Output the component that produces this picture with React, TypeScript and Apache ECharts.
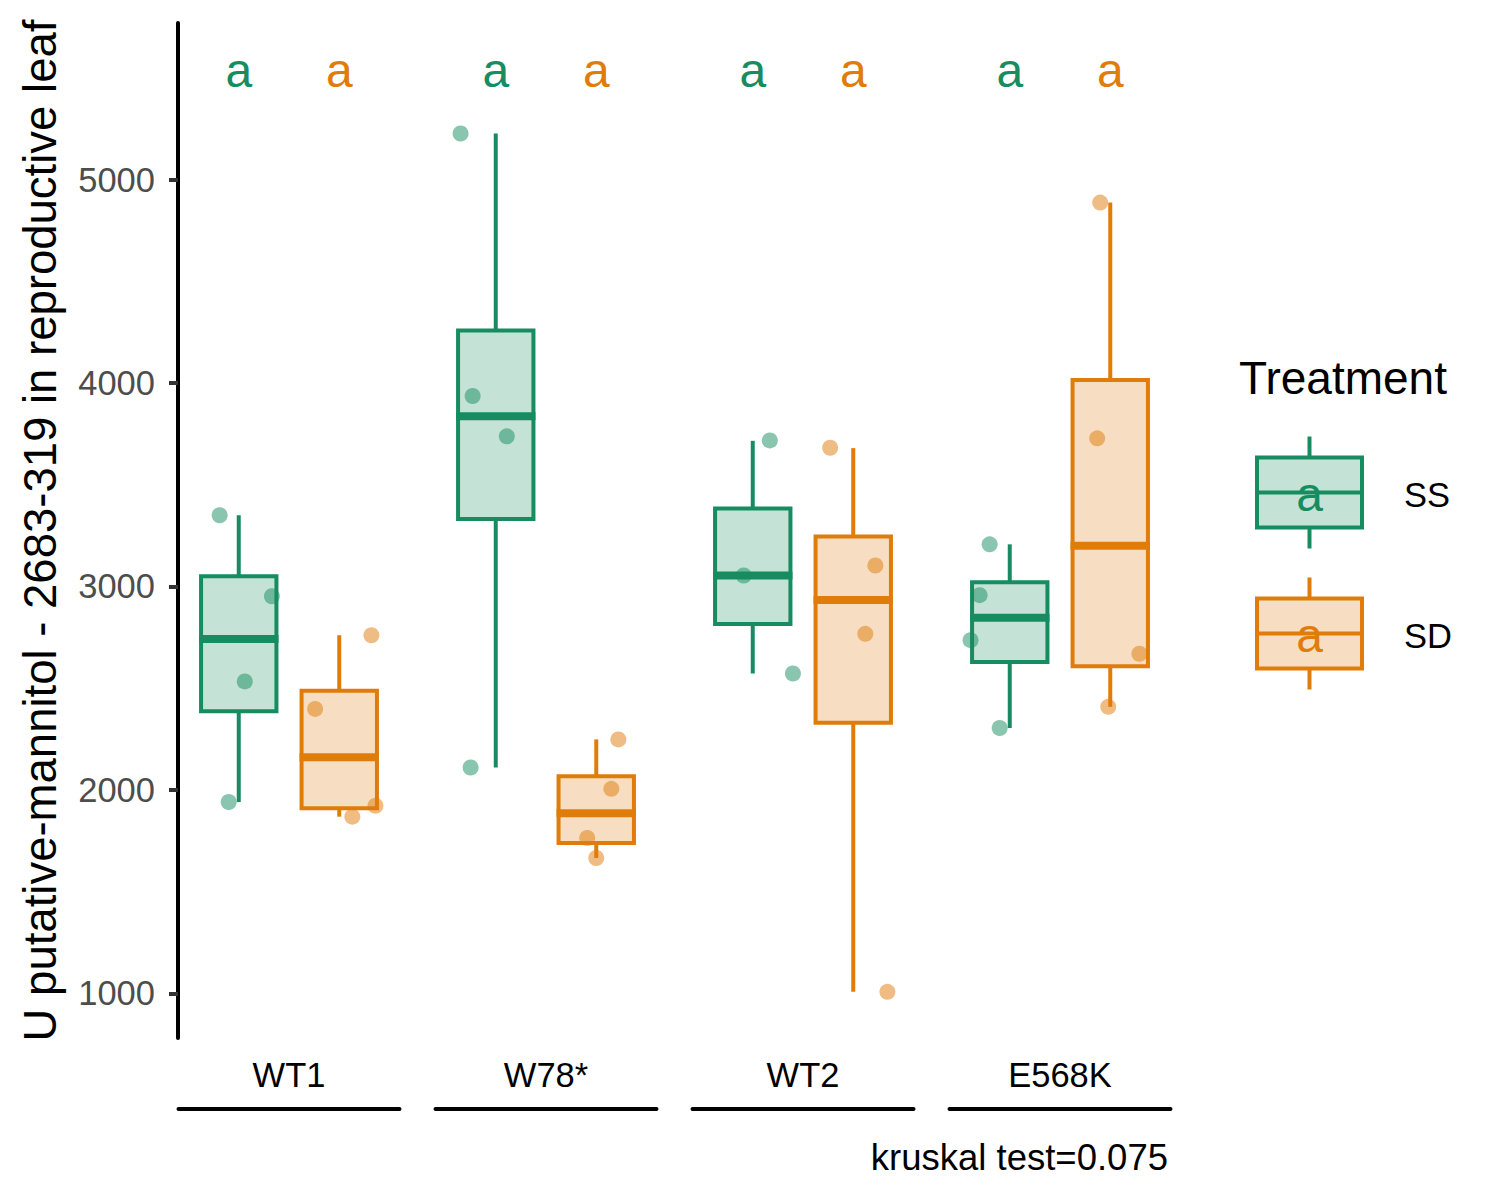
import React, { useEffect, useRef } from 'react';
import * as echarts from 'echarts';

// ---------- data ----------
const genotypes = ['WT1', 'W78*', 'WT2', 'E568K'];
const treatments = ['SS', 'SD'];
const letterLabels = [
  ['a', 'a'],
  ['a', 'a'],
  ['a', 'a'],
  ['a', 'a'],
];
const letterValue = 5535;
// box statistics per genotype: [min, Q1, median, Q3, max]
const ssBoxes = [
  [1940, 2386, 2742, 3050, 3350],
  [2110, 3332, 3837, 4258, 5227],
  [2572, 2815, 3054, 3383, 3716],
  [2304, 2628, 2846, 3020, 3207],
];
const sdBoxes = [
  [1868, 1910, 2160, 2487, 2760],
  [1665, 1739, 1885, 2067, 2248],
  [1007, 2330, 2933, 3246, 3680],
  [2408, 2608, 3200, 4015, 4887],
];
// jittered points (x on a 0..2 panel scale: SS at 0.5, SD at 1.5)
const ssPointsX = [
  [0.31, 0.83, 0.56, 0.40],
  [0.15, 0.27, 0.61, 0.25],
  [0.67, 0.41, 0.90],
  [0.30, 0.20, 0.11, 0.40],
];
const ssPointsY = [
  [3350, 2952, 2533, 1940],
  [5227, 3936, 3738, 2110],
  [3718, 3054, 2572],
  [3207, 2957, 2736, 2304],
];
const sdPointsX = [
  [1.82, 1.26, 1.86, 1.63],
  [1.72, 1.65, 1.41, 1.50],
  [1.27, 1.72, 1.62, 1.84],
  [1.40, 1.37, 1.79, 1.48],
];
const sdPointsY = [
  [2760, 2398, 1922, 1868],
  [2248, 2005, 1763, 1665],
  [3682, 3103, 2767, 1007],
  [4887, 3728, 2669, 2408],
];
const yTicks = [1000, 2000, 3000, 4000, 5000];
const yTitle = 'U putative-mannitol - 2683-319 in reproductive leaf';
const legendTitle = 'Treatment';
const testNote = 'kruskal test=0.075';

// ---------- styling / layout ----------
const FONT = '"Liberation Sans", Arial, Helvetica, sans-serif';
const COLORS = ['#168C60', '#E07C0A'];
const FILLS = ['rgba(22,140,96,0.25)', 'rgba(224,124,10,0.25)'];
const Y_MIN = 780;
const Y_MAX = 5770;
const PLOT_TOP = 23;
const PLOT_H = 1015;
const AXIS_X = 178;
const PANEL_CENTERS = [289, 546, 803, 1060];
const UNIT = 100.5;
const PANEL_W = 221;
const STRIP_Y = 1109;
const BOX_WIDTH = 0.75;

function makeRender(tIdx: number) {
  return (params: any, api: any) => {
    const x = api.value(0);
    const cx = api.coord([x, api.value(1)])[0];
    const yMin = api.coord([x, api.value(1)])[1];
    const yQ1 = api.coord([x, api.value(2)])[1];
    const yMed = api.coord([x, api.value(3)])[1];
    const yQ3 = api.coord([x, api.value(4)])[1];
    const yMax = api.coord([x, api.value(5)])[1];
    const hw = api.size([BOX_WIDTH, 0])[0] / 2;
    const color = COLORS[tIdx];
    return {
      type: 'group',
      children: [
        { type: 'line', shape: { x1: cx, y1: yMax, x2: cx, y2: yQ3 }, style: { stroke: color, lineWidth: 4 } },
        { type: 'line', shape: { x1: cx, y1: yQ1, x2: cx, y2: yMin }, style: { stroke: color, lineWidth: 4 } },
        {
          type: 'rect',
          shape: { x: cx - hw, y: yQ3, width: hw * 2, height: yQ1 - yQ3 },
          style: { fill: FILLS[tIdx], stroke: color, lineWidth: 4 },
        },
        { type: 'line', shape: { x1: cx - hw - 2, y1: yMed, x2: cx + hw + 2, y2: yMed }, style: { stroke: color, lineWidth: 8 } },
      ],
    };
  };
}

function buildOption() {
  const grids: any[] = [];
  const xAxes: any[] = [];
  const yAxes: any[] = [];
  const series: any[] = [];

  // data panels
  PANEL_CENTERS.forEach((c, i) => {
    grids.push({ left: c - UNIT, top: PLOT_TOP, width: UNIT * 2, height: PLOT_H });
    xAxes.push({ type: 'value', gridIndex: i, min: 0, max: 2, show: false });
    yAxes.push({ type: 'value', gridIndex: i, min: Y_MIN, max: Y_MAX, show: false, splitLine: { show: false } });
  });

  // strips (genotype label above a black line)
  genotypes.forEach((g, i) => {
    const gi = 4 + i;
    grids.push({ left: PANEL_CENTERS[i] - PANEL_W / 2, top: STRIP_Y, width: PANEL_W, height: 10 });
    xAxes.push({
      type: 'category',
      gridIndex: gi,
      position: 'top',
      data: [g],
      axisLine: { show: true, onZero: false, lineStyle: { color: '#000', width: 4 } },
      axisTick: { show: false },
      axisLabel: { interval: 0, margin: 17, fontSize: 34.5, color: '#000', fontFamily: FONT },
      splitLine: { show: false },
    });
    yAxes.push({ type: 'value', gridIndex: gi, show: false, splitLine: { show: false } });
  });

  // shared y axis (own grid so the line sits left of the first panel)
  grids.push({ left: AXIS_X, top: PLOT_TOP, width: 2, height: PLOT_H });
  xAxes.push({ type: 'value', gridIndex: 8, min: 0, max: 1, show: false });
  yAxes.push({
    type: 'value',
    gridIndex: 8,
    min: Y_MIN,
    max: Y_MAX,
    name: yTitle,
    nameLocation: 'middle',
    nameGap: 115,
    nameRotate: 90,
    nameTextStyle: { fontSize: 45.5, color: '#000', fontFamily: FONT },
    axisLine: { show: true, onZero: false, lineStyle: { color: '#000', width: 4 } },
    axisTick: { show: true, length: 9, customValues: yTicks, lineStyle: { color: '#333', width: 4 } },
    axisLabel: {
      customValues: yTicks,
      margin: 23,
      fontSize: 34.5,
      color: '#4D4D4D',
      fontFamily: FONT,
      formatter: (v: number) => String(v),
    },
    splitLine: { show: false },
  });

  genotypes.forEach((g, i) => {
    [ssBoxes, sdBoxes].forEach((boxes, t) => {
      series.push({
        type: 'custom',
        name: treatments[t],
        xAxisIndex: i,
        yAxisIndex: i,
        z: 2,
        encode: { x: 0, y: [1, 2, 3, 4, 5] },
        data: [[t + 0.5, ...boxes[i]]],
        renderItem: makeRender(t),
      });
    });
    [[ssPointsX, ssPointsY], [sdPointsX, sdPointsY]].forEach(([px, py], t) => {
      series.push({
        type: 'scatter',
        name: treatments[t],
        xAxisIndex: i,
        yAxisIndex: i,
        z: 3,
        symbolSize: 16,
        itemStyle: { color: COLORS[t], opacity: 0.5 },
        data: px[i].map((x: number, k: number) => [x, py[i][k]]),
      });
    });
    series.push({
      type: 'scatter',
      name: 'letters',
      xAxisIndex: i,
      yAxisIndex: i,
      z: 4,
      symbolSize: 1,
      itemStyle: { color: 'rgba(0,0,0,0)', opacity: 1 },
      data: treatments.map((_, t) => ({
        value: [t + 0.5, letterValue],
        label: { color: COLORS[t], formatter: letterLabels[i][t] },
      })),
      label: { show: true, position: 'inside', fontSize: 48, fontFamily: FONT, opacity: 1 },
    });
  });

  // legend drawn as graphic keys (box-plot glyph with the letter, like the reference)
  const LX = 1257;
  const LW = 105;
  const keyTops = [457.5, 598.5];
  const KH = 70;
  const legendEls: any[] = [
    {
      type: 'text',
      x: 1239,
      y: 378,
      style: { text: legendTitle, fontSize: 46, fontFamily: FONT, fill: '#000', align: 'left', verticalAlign: 'middle' },
    },
  ];
  treatments.forEach((t, k) => {
    const top = keyTops[k];
    const mid = top + KH / 2;
    const cx = LX + LW / 2;
    legendEls.push(
      { type: 'line', shape: { x1: cx, y1: top - 21, x2: cx, y2: top }, style: { stroke: COLORS[k], lineWidth: 4 } },
      { type: 'line', shape: { x1: cx, y1: top + KH, x2: cx, y2: top + KH + 21 }, style: { stroke: COLORS[k], lineWidth: 4 } },
      { type: 'rect', shape: { x: LX, y: top, width: LW, height: KH }, style: { fill: FILLS[k], stroke: COLORS[k], lineWidth: 4 } },
      { type: 'line', shape: { x1: LX, y1: mid, x2: LX + LW, y2: mid }, style: { stroke: COLORS[k], lineWidth: 4 } },
      {
        type: 'text',
        x: cx,
        y: mid + 2,
        style: { text: 'a', fontSize: 48, fontFamily: FONT, fill: COLORS[k], align: 'center', verticalAlign: 'middle' },
      },
      {
        type: 'text',
        x: 1404,
        y: mid + 2,
        style: { text: t, fontSize: 34.5, fontFamily: FONT, fill: '#000', align: 'left', verticalAlign: 'middle' },
      }
    );
  });

  return {
    animation: false,
    backgroundColor: '#ffffff',
    textStyle: { fontFamily: FONT },
    title: {
      text: testNote,
      right: 332,
      top: 1139,
      padding: 0,
      textStyle: { fontSize: 36.5, fontWeight: 'normal', color: '#000', fontFamily: FONT },
    },
    grid: grids,
    xAxis: xAxes,
    yAxis: yAxes,
    series,
    graphic: { elements: legendEls },
  };
}

export default function App() {
  const ref = useRef<HTMLDivElement>(null);
  useEffect(() => {
    if (!ref.current) return;
    const chart = echarts.init(ref.current, null, { renderer: 'svg' });
    chart.setOption(buildOption() as any);
    return () => chart.dispose();
  }, []);
  return (
    <div
      ref={ref}
      style={{ position: 'absolute', left: 0, top: 0, width: 1500, height: 1200, background: '#fff' }}
    />
  );
}
